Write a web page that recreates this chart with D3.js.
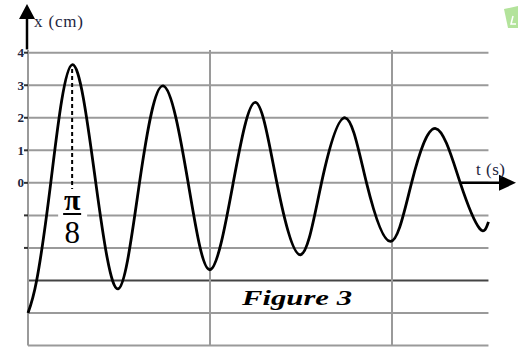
<!DOCTYPE html>
<html>
<head>
<meta charset="utf-8">
<script src="https://cdn.jsdelivr.net/npm/d3@7"></script>
<style>
  html, body { margin: 0; padding: 0; background: #fff; }
  svg { display: block; }
  text { font-family: 'Liberation Serif', 'Times New Roman', Times, serif; }
</style>
</head>
<body>
<script>
const width = 518
const height = 350

// time in units of pi/8 s, elongation in cm (extrema and zero crossings)
const tValues = [0, 0.19, 0.50, 0.97, 1.49, 1.98, 2.45, 2.97, 3.52, 4.00,
  4.51, 5.00, 5.47, 5.99, 6.45, 6.97, 7.44, 7.97, 8.43, 8.96, 9.50, 9.93, 10.12]
const xValues = [-4.0, -3.0, 0, 3.63, 0, -3.26, 0, 2.98, 0, -2.67,
  0, 2.47, 0, -2.21, 0, 2.0, 0, -1.80, 0, 1.67, 0, -1.41, -1.2]

const gridRows = [4, 3, 2, 1, 0, -1, -2, -3, -4, -5]
const gridCols = [0, 4, 8]
const darkRow = -3
const tickLabels = [4, 3, 2, 1, 0]
const tickMarks = [4, 3, 2, 1, 0, -1, -2]
const tEnd = 10.12
const piT = 0.97

const data = tValues.map((t, i) => ({ t: t, x: xValues[i] }))

const xScale = d3.scaleLinear().domain([0, 4]).range([28, 210])
const yScale = d3.scaleLinear().domain([-4, 4]).range([313, 52.7])

const svg = d3.select('body')
  .append('svg')
  .attr('width', width)
  .attr('height', height)

// grid
svg.append('g')
  .selectAll('line')
  .data(gridRows)
  .enter()
  .append('line')
  .attr('x1', xScale(0))
  .attr('x2', xScale(tEnd))
  .attr('y1', d => yScale(d))
  .attr('y2', d => yScale(d))
  .attr('stroke', d => d === darkRow ? '#444' : '#9a9a9a')
  .attr('stroke-width', 2)

svg.append('g')
  .selectAll('line')
  .data(gridCols)
  .enter()
  .append('line')
  .attr('x1', d => xScale(d))
  .attr('x2', d => xScale(d))
  .attr('y1', yScale(4.08))
  .attr('y2', yScale(-5))
  .attr('stroke', '#9a9a9a')
  .attr('stroke-width', 2)

// small ticks on the x axis
svg.append('g')
  .selectAll('line')
  .data(tickMarks)
  .enter()
  .append('line')
  .attr('x1', xScale(0) - 4)
  .attr('x2', xScale(0))
  .attr('y1', d => yScale(d))
  .attr('y2', d => yScale(d))
  .attr('stroke', '#333')
  .attr('stroke-width', 2)

svg.append('g')
  .selectAll('text')
  .data(tickLabels)
  .enter()
  .append('text')
  .attr('x', xScale(0) - 4)
  .attr('y', d => yScale(d) + 4.5)
  .attr('text-anchor', 'end')
  .style('font-weight', 'bold')
  .style('font-size', '13px')
  .attr('fill', '#1d2540')
  .text(d => d)

// vertical axis arrow
svg.append('line')
  .attr('x1', xScale(0) - 1)
  .attr('x2', xScale(0) - 1)
  .attr('y1', yScale(4.1))
  .attr('y2', 16)
  .attr('stroke', '#000')
  .attr('stroke-width', 2.5)
svg.append('path')
  .attr('d', `M${xScale(0) - 9},19 L${xScale(0) - 1},4 L${xScale(0) + 7},19 Z`)
  .attr('fill', '#000')
svg.append('text')
  .attr('x', 34)
  .attr('y', 27)
  .attr('textLength', 49)
  .style('font-size', '17px')
  .attr('fill', '#1d2540')
  .text('x (cm)')

// horizontal axis arrow
svg.append('line')
  .attr('x1', 461)
  .attr('x2', 502)
  .attr('y1', yScale(0))
  .attr('y2', yScale(0))
  .attr('stroke', '#000')
  .attr('stroke-width', 2.5)
svg.append('path')
  .attr('d', `M499,${yScale(0) - 8} L516,${yScale(0)} L499,${yScale(0) + 8} Z`)
  .attr('fill', '#000')
svg.append('text')
  .attr('x', 476)
  .attr('y', 175)
  .attr('textLength', 29)
  .style('font-size', '17px')
  .attr('fill', '#1d2540')
  .text('t (s)')

// pi/8 marker
svg.append('line')
  .attr('x1', xScale(piT))
  .attr('x2', xScale(piT))
  .attr('y1', yScale(3.5))
  .attr('y2', yScale(-0.2))
  .attr('stroke', '#000')
  .attr('stroke-width', 2)
  .attr('stroke-dasharray', '4,3')

svg.append('rect')
  .attr('x', xScale(piT) - 14)
  .attr('y', 189)
  .attr('width', 29)
  .attr('height', 57)
  .attr('fill', '#fff')

svg.append('text')
  .attr('x', xScale(piT))
  .attr('y', 210)
  .attr('text-anchor', 'middle')
  .style('font-weight', 'bold')
  .style('font-size', '30px')
  .text('π')
svg.append('line')
  .attr('x1', xScale(piT) - 9)
  .attr('x2', xScale(piT) + 9)
  .attr('y1', 214)
  .attr('y2', 214)
  .attr('stroke', '#000')
  .attr('stroke-width', 2)
svg.append('text')
  .attr('x', xScale(piT))
  .attr('y', 243)
  .attr('text-anchor', 'middle')
  .style('font-size', '31px')
  .text('8')

// the oscillation
const line = d3.line()
  .x(d => xScale(d.t))
  .y(d => yScale(d.x))
  .curve(d3.curveNatural)

svg.append('path')
  .datum(data)
  .attr('d', line)
  .attr('fill', 'none')
  .attr('stroke', '#000')
  .attr('stroke-width', 2.8)
  .attr('stroke-linejoin', 'round')

svg.append('text')
  .attr('x', 242)
  .attr('y', 305)
  .attr('textLength', 110)
  .attr('lengthAdjust', 'spacingAndGlyphs')
  .style('font-style', 'italic')
  .style('font-weight', 'bold')
  .style('font-size', '22px')
  .text('Figure 3')

// little green mark in the corner
svg.append('path')
  .attr('d', 'M504,9 L518,6 L518,28 L508,28 Z')
  .attr('fill', '#b3e39b')
svg.append('path')
  .attr('d', 'M513,16 L511,24 L516,24')
  .attr('fill', 'none')
  .attr('stroke', '#fff')
  .attr('stroke-width', 1.5)
</script>
</body>
</html>
